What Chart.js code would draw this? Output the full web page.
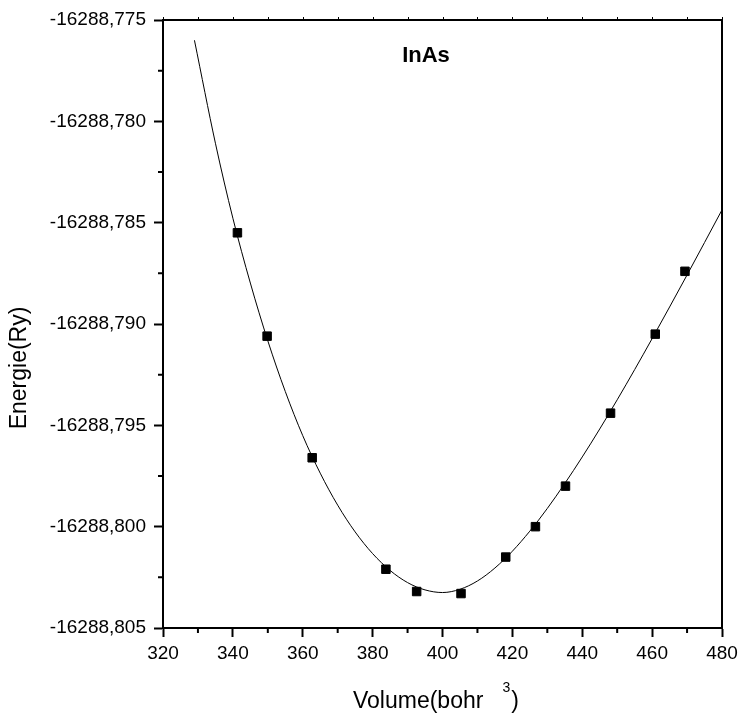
<!DOCTYPE html>
<html>
<head>
<meta charset="utf-8">
<script src="https://cdn.jsdelivr.net/npm/chart.js"></script>
<style>
html, body { margin: 0; padding: 0; background: #fff; }
</style>
</head>
<body>
<canvas id="c" width="740" height="715"></canvas>
<script>
// calculated points (squares)
const volumes = [341.3, 349.8, 362.7, 383.8, 392.6, 405.3, 418.1, 426.6, 435.2, 448.1, 460.9, 469.4];
const energies = [-16288.7855, -16288.7906, -16288.7966, -16288.8021, -16288.8032, -16288.8033,
                  -16288.8015, -16288.8000, -16288.7980, -16288.7944, -16288.7905, -16288.7874];

// fitted curve
const fitVolumes = [329, 335, 340, 345, 350, 355, 360, 365, 370, 375, 380, 385, 390, 395, 400,
                    405, 410, 415, 420, 425, 430, 435, 440, 445, 450, 455, 460, 465, 470, 475, 480];
const fitEnergies = [-16288.77600, -16288.78108, -16288.78478, -16288.78798, -16288.79083, -16288.79333,
                     -16288.79551, -16288.79736, -16288.79894, -16288.80026, -16288.80133, -16288.80216,
                     -16288.80276, -16288.80312, -16288.80325, -16288.80309, -16288.80268, -16288.80204,
                     -16288.80121, -16288.80022, -16288.79910, -16288.79787, -16288.79656, -16288.79518,
                     -16288.79374, -16288.79225, -16288.79072, -16288.78916, -16288.78758, -16288.78598,
                     -16288.78437];

const xTicks = [320, 340, 360, 380, 400, 420, 440, 460, 480];
const yTicks = [-16288.805, -16288.800, -16288.795, -16288.790, -16288.785, -16288.780, -16288.775];

const FONT = "'Liberation Sans', Arial, sans-serif";
Chart.defaults.font.family = FONT;
Chart.defaults.color = '#000';

const mid = arr => arr.slice(1).map((v, i) => (v + arr[i]) / 2);

// frame, minor ticks, titles
const decor = {
    id: 'decor',
    afterDraw(chart) {
        const ctx = chart.ctx;
        const a = chart.chartArea;
        const xs = chart.scales.x, ys = chart.scales.y;
        ctx.save();
        ctx.strokeStyle = '#000';
        ctx.lineWidth = 2;
        ctx.beginPath();
        ctx.moveTo(a.left, a.top); ctx.lineTo(a.right, a.top); ctx.lineTo(a.right, a.bottom);
        ctx.stroke();

        ctx.beginPath();
        for (const v of mid(xTicks)) {
            const px = xs.getPixelForValue(v);
            ctx.moveTo(px, a.bottom); ctx.lineTo(px, a.bottom + 5);
        }
        for (const v of mid(yTicks)) {
            const py = ys.getPixelForValue(v);
            ctx.moveTo(a.left, py); ctx.lineTo(a.left - 5, py);
        }
        ctx.stroke();

        // tiny ticks on the top edge
        ctx.lineWidth = 1;
        ctx.beginPath();
        for (const v of xTicks.concat(mid(xTicks))) {
            const px = Math.round(xs.getPixelForValue(v)) + 0.5;
            ctx.moveTo(px, a.top - 3); ctx.lineTo(px, a.top);
        }
        ctx.stroke();

        ctx.fillStyle = '#000';
        // title
        ctx.font = 'bold 22px ' + FONT;
        ctx.textAlign = 'center';
        ctx.textBaseline = 'alphabetic';
        ctx.fillText('InAs', 426, 62);

        // x title
        ctx.font = '23px ' + FONT;
        ctx.textAlign = 'left';
        const t1 = 'Volume(bohr';
        const x0 = 353;
        const w1 = ctx.measureText(t1).width;
        ctx.fillText(t1, x0, 708);
        ctx.font = '14px ' + FONT;
        const xs3 = x0 + w1 + 19;
        ctx.fillText('3', xs3, 692);
        const w3 = ctx.measureText('3').width;
        ctx.font = '23px ' + FONT;
        ctx.fillText(')', xs3 + w3 + 1, 708);

        // y title
        ctx.translate(20, 368);
        ctx.rotate(-Math.PI / 2);
        ctx.textAlign = 'center';
        ctx.textBaseline = 'middle';
        ctx.fillText('Energie(Ry)', 0, 0);
        ctx.restore();
    }
};

new Chart(document.getElementById('c'), {
    type: 'scatter',
    data: {
        datasets: [
            {
                label: 'fit',
                data: fitVolumes.map((v, i) => ({x: v, y: fitEnergies[i]})),
                showLine: true,
                borderColor: '#000',
                borderWidth: 1,
                pointRadius: 0,
                cubicInterpolationMode: 'monotone',
                order: 2
            },
            {
                label: 'InAs',
                data: volumes.map((v, i) => ({x: v, y: energies[i]})),
                showLine: false,
                pointStyle: 'rect',
                pointRadius: 6,
                backgroundColor: '#000',
                borderColor: '#000',
                borderWidth: 1,
                order: 1
            }
        ]
    },
    options: {
        responsive: false,
        animation: false,
        layout: {padding: {left: 0, right: 18, top: 20, bottom: 0}},
        plugins: {legend: {display: false}, tooltip: {enabled: false}},
        scales: {
            x: {
                type: 'linear',
                min: 320, max: 480,
                afterBuildTicks: s => { s.ticks = xTicks.map(v => ({value: v})); },
                afterFit: s => { s.height = 87; s.paddingLeft = 0; s.paddingRight = 0; },
                ticks: {font: {size: 19}, padding: 5, maxRotation: 0},
                grid: {drawOnChartArea: false, drawTicks: true, tickLength: 9, tickWidth: 2, tickColor: '#000'},
                border: {display: true, color: '#000', width: 2}
            },
            y: {
                type: 'linear',
                min: -16288.805, max: -16288.775,
                afterBuildTicks: s => { s.ticks = yTicks.map(v => ({value: v})); },
                afterFit: s => { s.width = 163; },
                ticks: {
                    font: {size: 19}, padding: 8,
                    callback: v => v.toFixed(3).replace('.', ',')
                },
                grid: {drawOnChartArea: false, drawTicks: true, tickLength: 9, tickWidth: 2, tickColor: '#000'},
                border: {display: true, color: '#000', width: 2}
            }
        }
    },
    plugins: [decor]
});
</script>
</body>
</html>
